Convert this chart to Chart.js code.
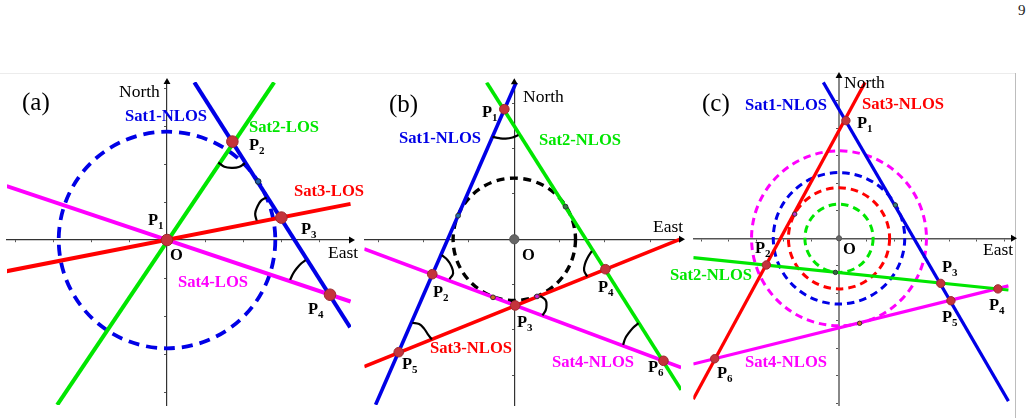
<!DOCTYPE html>
<html><head><meta charset="utf-8">
<script src="https://cdn.jsdelivr.net/npm/chart.js@4"></script>
<style>
html,body{margin:0;padding:0;background:#fff;width:1032px;height:418px;overflow:hidden}
canvas{position:absolute;left:0;top:0}
#top{position:absolute;left:0;top:73px;width:1015px;height:1px;background:#ececec}
#side{position:absolute;left:1015px;top:73px;width:1px;height:345px;background:#bdbdbd}
#pg{position:absolute;left:1018px;top:2px;font:15px "Liberation Serif";color:#222}
</style></head><body>
<div id="top"></div><div id="side"></div><div id="pg">9</div>
<canvas id="ca" width="1032" height="418"></canvas>
<canvas id="cb" width="1032" height="418"></canvas>
<canvas id="cc" width="1032" height="418"></canvas>
<script>
// Panel (a) values, in axis units
const aSat1 = [[0.72,4.15],[4.82,-2.30]];
const aSat2 = [[2.82,4.15],[-2.89,-4.34]];
const aSat3 = [[-4.22,-0.82],[4.83,0.95]];
const aSat4 = [[-4.22,1.42],[4.83,-1.62]];
const aFixes = [[0,0],[1.72,2.59],[3.01,0.59],[4.29,-1.44]];
const aTangents = [[2.40,1.54]];
const aTangentColors = ['#1f5fa8'];
const aRadii = [2.85];
const aArcs = [
  [[1.35,2.04],[1.51,1.93],[1.70,1.90],[1.89,1.92],[2.05,2.02]],
  [[2.36,0.51],[2.32,0.69],[2.37,0.86],[2.47,1.03],[2.62,1.12]],
  [[3.24,-1.05],[3.32,-0.88],[3.41,-0.75],[3.53,-0.62],[3.65,-0.53]]
];
// Panel (b) values
const bSat1 = [[-3.06,-3.65],[0.04,3.46]];
const bSat2 = [[-0.61,3.46],[3.68,-3.32]];
const bSat3 = [[-3.31,-2.81],[3.65,0]];
const bSat4 = [[-3.31,-0.21],[3.68,-2.83]];
const bFixes = [[-0.22,2.87],[-1.81,-0.77],[0.02,-1.46],[2.01,-0.66],[-2.55,-2.49],[3.29,-2.68]];
const bTangents = [[-1.24,0.52],[1.13,0.72],[-0.47,-1.28],[0.50,-1.26]];
const bTangentColors = ['#1f6fb0','#2f7d3f','#d2691e','#d020d0'];
const bRadii = [1.35];
const bArcs = [
  [[-0.48,2.26],[-0.33,2.23],[-0.19,2.22],[-0.04,2.245],[0.09,2.30]],
  [[-1.60,-0.35],[-1.47,-0.46],[-1.39,-0.59],[-1.35,-0.75],[-1.43,-0.88]],
  [[1.71,-0.26],[1.62,-0.40],[1.56,-0.54],[1.54,-0.69],[1.61,-0.82]],
  [[0.57,-1.25],[0.69,-1.34],[0.71,-1.46],[0.69,-1.57],[0.62,-1.68]],
  [[-2.25,-1.84],[-2.10,-1.87],[-1.99,-1.97],[-1.91,-2.09],[-1.82,-2.21]],
  [[2.40,-2.33],[2.45,-2.18],[2.53,-2.06],[2.62,-1.95],[2.74,-1.85]]
];
// Panel (c) values
const cSat1 = [[-0.57,5.67],[6.16,-5.92]];
const cSat2 = [[-5.30,-0.70],[6.16,-1.88]];
const cSat3 = [[0.95,5.67],[-5.30,-5.85]];
const cSat4 = [[-5.30,-4.57],[6.16,-1.73]];
const cFixes = [[0.25,4.28],[-2.64,-0.97],[3.70,-1.64],[5.78,-1.84],[4.07,-2.27],[-4.52,-4.38]];
const cTangents = [[-1.61,0.88],[2.05,1.21],[-0.13,-1.24],[0.75,-3.09]];
const cTangentColors = ['#c030d0','#2f8080','#2f6f3f','#d2691e'];
const cRadii = [1.24,1.84,2.39,3.18];
const cRadiiColors = ['#00e600','#ff0000','#0000e6','#ff00ff'];

const BLUE='#0000e6', GREEN='#00e600', RED='#ff0000', MAG='#ff00ff';
const toXY = a => a.map(p => ({x:p[0], y:p[1]}));
const line = (pts,color,width) => ({data:toXY(pts),showLine:true,borderColor:color,borderWidth:width,pointRadius:0,borderCapStyle:'butt'});
const arc = pts => ({data:toXY(pts),showLine:true,borderColor:'#000',borderWidth:2.2,pointRadius:0,tension:0.4,clip:false});
const dots = (pts,fill,edge,r) => ({data:toXY(pts),showLine:false,backgroundColor:fill,borderColor:edge,borderWidth:1,pointRadius:r,clip:false});

const ringPlugin = {
  id:'rings',
  beforeDatasetsDraw(chart,_,o){
    const {ctx,scales:{x,y}} = chart;
    ctx.save();
    ctx.lineWidth = o.width; ctx.setLineDash(o.dash);
    o.radii.forEach((r,i)=>{
      ctx.strokeStyle = o.colors[i];
      ctx.beginPath();
      ctx.arc(x.getPixelForValue(0),y.getPixelForValue(0),x.getPixelForValue(r)-x.getPixelForValue(0),o.start,o.start+Math.PI*2);
      ctx.stroke();
    });
    ctx.restore();
  }
};
const textPlugin = {
  id:'texts',
  afterDraw(chart,_,o){
    const ctx = chart.ctx;
    ctx.save();
    ctx.textBaseline='alphabetic'; ctx.textAlign='left';
    o.items.forEach(t=>{
      ctx.fillStyle = t.c || '#000';
      ctx.font = t.f;
      ctx.fillText(t.s,t.x,t.y);
      if(t.sub){
        const w = ctx.measureText(t.s).width;
        ctx.font = 'bold 11px "Liberation Serif"';
        ctx.fillText(t.sub,t.x+w,t.y+4);
      }
    });
    ctx.restore();
  }
};
const SERIF='"Liberation Serif"';
const HEAD='25px '+SERIF, AX='17.5px '+SERIF, SAT='bold 16.6px '+SERIF, PT='bold 16.5px '+SERIF;
const sat=(s,c,x,y)=>({s,c,x,y,f:SAT});
const pt=(n,x,y)=>({s:'P',sub:String(n),x,y,f:PT});
const ax=(s,x,y)=>({s,x,y,f:AX});
const ori=(x,y)=>({s:'O',x,y,f:'bold 16.5px '+SERIF});

function panel(id,cfg){
  new Chart(document.getElementById(id),{
    type:'scatter',
    data:{datasets:cfg.datasets},
    plugins:[ringPlugin,textPlugin],
    options:{
      responsive:false,maintainAspectRatio:false,animation:false,devicePixelRatio:1,events:[],
      layout:{padding:cfg.pad},
      plugins:{legend:{display:false},tooltip:{enabled:false},
        rings:cfg.rings,texts:{items:cfg.texts}},
      scales:{
        x:{type:'linear',min:cfg.x[0],max:cfg.x[1],position:{y:0},
          border:{display:true,color:cfg.xAxis[0],width:cfg.xAxis[1]},
          grid:{drawOnChartArea:false,drawTicks:true,tickLength:2,color:'#555'},
          ticks:{display:false,stepSize:1,includeBounds:false}},
        y:{type:'linear',min:cfg.y[0],max:cfg.y[1],position:{x:0},
          border:{display:true,color:cfg.yAxis[0],width:cfg.yAxis[1]},
          grid:{drawOnChartArea:false,drawTicks:true,tickLength:2,color:'#555'},
          ticks:{display:false,stepSize:1,includeBounds:false}}
      }
    }
  });
}
const arrow=(pts,rot)=>({data:toXY(pts),showLine:false,pointStyle:'triangle',pointRotation:rot,pointRadius:4,backgroundColor:'#000',borderWidth:0,clip:false});
const FIX='#c4343c', EDGE='#9c2a30';

panel('ca',{
  pad:{left:7,right:681,top:82,bottom:13},
  x:[-4.211,4.842], y:[-4.342,4.158],
  xAxis:['#333',1.2], yAxis:['#333',1.2],
  rings:{radii:aRadii,colors:[BLUE],width:3.8,dash:[11,7],start:0},
  datasets:[
    dots(aFixes,FIX,EDGE,5.8),
    dots(aTangents,aTangentColors,'#123',2.8),
    arrow([[4.842,0]],90), arrow([[0,4.158]],0),
    ...aArcs.map(arc),
    line(aSat1,BLUE,4), line(aSat3,RED,4), line(aSat4,MAG,4), line(aSat2,GREEN,4)
  ],
  texts:[
    {s:'(a)',x:22,y:110,f:HEAD}, ax('North',119,97), ax('East',328,258), ori(170,260),
    sat('Sat1-NLOS',BLUE,125,121), sat('Sat2-LOS',GREEN,249,132),
    sat('Sat3-LOS',RED,294,196), sat('Sat4-LOS',MAG,178,287),
    pt(1,148,225), pt(2,249,150), pt(3,301,234), pt(4,308,314)
  ]
});
panel('cb',{
  pad:{left:364.3,right:351,top:82.3,bottom:13},
  x:[-3.309,3.677], y:[-3.655,3.463],
  xAxis:['#333',1.2], yAxis:['#333',1.2],
  rings:{radii:bRadii,colors:['#000'],width:3.4,dash:[8,5.5],start:0},
  datasets:[
    dots([[0,0]],'#666','#555',4.6),
    dots(bFixes,FIX,EDGE,4.8),
    dots(bTangents,bTangentColors,'#333',2.4),
    arrow([[3.677,0]],90), arrow([[0,3.463]],0),
    ...bArcs.map(arc),
    line(bSat1,BLUE,3.6), line(bSat3,RED,3.6), line(bSat2,GREEN,3.6), line(bSat4,MAG,3.6)
  ],
  texts:[
    {s:'(b)',x:389,y:112,f:HEAD}, ax('North',523,102), ax('East',653,232), ori(522,260),
    sat('Sat1-NLOS',BLUE,399,143), sat('Sat2-NLOS',GREEN,539,145),
    sat('Sat3-NLOS',RED,430,353), sat('Sat4-NLOS',MAG,552,367),
    pt(1,482,117), pt(2,433,297), pt(3,517,327), pt(4,598,292), pt(5,402,369), pt(6,648,372)
  ]
});
panel('cc',{
  pad:{left:693.3,right:19,top:76,bottom:13},
  x:[-5.298,6.327], y:[-6.062,5.902],
  xAxis:['#555',1.5], yAxis:['#888',2],
  rings:{radii:cRadii,colors:cRadiiColors,width:3,dash:[7.5,5],start:0},
  datasets:[
    dots([[0,0]],'#666','#555',2.6),
    dots(cFixes,FIX,EDGE,4.2),
    dots(cTangents,cTangentColors,'#333',2.2),
    arrow([[6.327,0]],90), arrow([[0,5.902]],0),
    line(cSat3,RED,3.2), line(cSat1,BLUE,3.2), line(cSat2,GREEN,3.2), line(cSat4,MAG,3.2)
  ],
  texts:[
    {s:'(c)',x:702,y:111,f:HEAD}, ax('North',844,88), ax('East',983,255), ori(843,254),
    sat('Sat1-NLOS',BLUE,745,110), sat('Sat3-NLOS',RED,862,109),
    sat('Sat2-NLOS',GREEN,670,280), sat('Sat4-NLOS',MAG,745,367),
    pt(1,857,128), pt(2,755,253), pt(3,942,272), pt(4,989,310), pt(5,942,322), pt(6,717,378)
  ]
});
</script>
</body></html>
